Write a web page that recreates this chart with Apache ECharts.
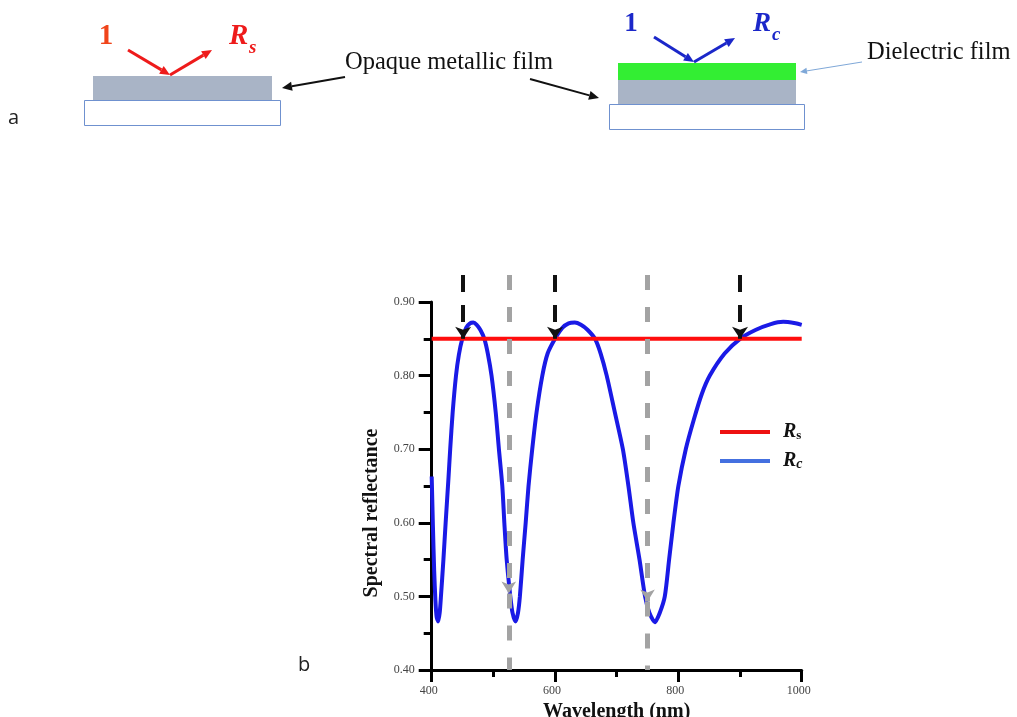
<!DOCTYPE html>
<html>
<head>
<meta charset="utf-8">
<script src="https://cdn.jsdelivr.net/npm/echarts@6/dist/echarts.min.js"></script>
<style>
  html, body { margin: 0; padding: 0; background: #ffffff; }
  #chart { width: 1017px; height: 717px; }
</style>
</head>
<body>
<div id="chart"></div>
<script>
// Reflectance of the coated film (Rc) versus wavelength
const wavelengthNm = [
  400, 402, 404, 406, 408, 410.5, 413, 415, 419, 422.6, 427, 430, 434, 439.4, 444,
  449.6, 456, 462, 467.5, 473, 479, 485.4, 491, 497, 503.8, 509, 514.5, 517.8, 521.6,
  527.5, 531, 536, 540, 543, 547.5, 552.4, 557, 563, 570, 579.4, 588, 600, 612, 622,
  632, 642, 653, 664.8, 674, 683.8, 697, 710, 719, 727, 737, 746, 753, 762, 770, 778,
  785, 792, 800, 812, 825, 838, 851, 875, 900, 925, 950, 970, 990, 1000
];
const rcValues = [
  0.663, 0.595, 0.535, 0.495, 0.472, 0.466, 0.478, 0.50, 0.55, 0.60, 0.658, 0.70, 0.75, 0.80, 0.828,
  0.85, 0.865, 0.871, 0.872, 0.869, 0.862, 0.85, 0.83, 0.80, 0.75, 0.70, 0.65, 0.60, 0.55,
  0.50, 0.478, 0.466, 0.478, 0.50, 0.55, 0.60, 0.65, 0.70, 0.75, 0.80, 0.83, 0.85, 0.865, 0.871,
  0.872, 0.869, 0.862, 0.85, 0.83, 0.80, 0.75, 0.70, 0.65, 0.60, 0.55, 0.50, 0.478, 0.465, 0.478, 0.50,
  0.55, 0.60, 0.65, 0.70, 0.74, 0.775, 0.80, 0.83, 0.85, 0.862, 0.870, 0.873, 0.871, 0.869
];

// Reflectance of the bare metallic film (Rs), flat over the band
const rsLevel = 0.85;
const rsRangeNm = [400, 1000];

// Wavelengths where Rc crosses Rs (black arrows) and marked dips (grey arrows)
const crossingNm = [451, 600, 900];
const dipMarkNm = [525, 750];
const dipMarkTip = [0.504, 0.493];

// Axis ranges
const xRange = [400, 1000];
const yRange = [0.40, 0.90];
const markerTop = 0.9367; // upper end of the marker guides (above the plot frame)

const serif = '"Liberation Serif", "Times New Roman", serif';

const chart = echarts.init(document.getElementById('chart'), null, { renderer: 'canvas' });

// Straight arrow built from a line and a filled head (schematic only)
function arrow(x1, y1, x2, y2, color, width, head) {
  const a = Math.atan2(y2 - y1, x2 - x1);
  const hw = head * 0.45;
  const bx = x2 - head * Math.cos(a), by = y2 - head * Math.sin(a);
  return [
    { type: 'line', shape: { x1: x1, y1: y1, x2: bx, y2: by },
      style: { stroke: color, lineWidth: width } },
    { type: 'polygon',
      shape: { points: [[x2, y2], [bx + hw * Math.sin(a), by - hw * Math.cos(a)], [bx - hw * Math.sin(a), by + hw * Math.cos(a)]] },
      style: { fill: color } }
  ];
}

function txt(x, y, text, font, fill, align) {
  return { type: 'text', x: x, y: y,
    style: { text: text, font: font, fill: fill, align: align || 'left', verticalAlign: 'middle' } };
}

const red = '#ee1b1b', blue = '#1b27c9', metal = '#a9b4c6';

const schematic = [
  // bare metal film on substrate
  { type: 'rect', shape: { x: 84.5, y: 100.5, width: 196, height: 25 }, style: { fill: '#ffffff', stroke: '#6f91cf', lineWidth: 1 } },
  { type: 'rect', shape: { x: 93, y: 76, width: 179, height: 24 }, style: { fill: metal } },
  ...arrow(128, 50, 170, 75, red, 3, 10),
  ...arrow(170, 75, 212, 50, red, 3, 10),
  txt(106, 37, '1', 'bold 29px ' + serif, '#f0441a', 'center'),
  txt(229, 37, 'R', 'italic bold 29px ' + serif, red),
  txt(249, 48, 's', 'italic bold 19px ' + serif, red),

  // coated metal film on substrate
  { type: 'rect', shape: { x: 609.5, y: 104.5, width: 195, height: 25 }, style: { fill: '#ffffff', stroke: '#6f91cf', lineWidth: 1 } },
  { type: 'rect', shape: { x: 618, y: 80, width: 178, height: 24 }, style: { fill: metal } },
  { type: 'rect', shape: { x: 618, y: 63, width: 178, height: 17 }, style: { fill: '#33ee33' } },
  ...arrow(654, 37, 694, 62, blue, 3, 10),
  ...arrow(694, 62, 735, 38, blue, 3, 10),
  txt(631, 24, '1', 'bold 27px ' + serif, blue, 'center'),
  txt(753, 24, 'R', 'italic bold 27px ' + serif, blue),
  txt(772, 35, 'c', 'italic bold 19px ' + serif, blue),

  // callouts
  txt(345, 63, 'Opaque metallic film', '24.5px ' + serif, '#111111'),
  ...arrow(345, 77, 282, 88, '#111111', 2, 10),
  ...arrow(530, 79, 599, 98, '#111111', 2, 10),
  txt(867, 53, 'Dielectric film', '24.5px ' + serif, '#111111'),
  ...arrow(862, 62, 800, 72, '#7fa8d8', 1, 7),

  // panel letters
  txt(8, 118, 'a', '20px "Open Sans", "DejaVu Sans", sans-serif', '#222222'),
  txt(298, 665, 'b', '20px "Open Sans", "DejaVu Sans", sans-serif', '#222222')
];

const option = {
  animation: false,
  backgroundColor: '#ffffff',
  graphic: { elements: schematic },
  legend: {
    left: 715,
    top: 417,
    orient: 'vertical',
    icon: 'rect',
    itemWidth: 50,
    itemHeight: 4,
    itemGap: 9,
    data: [
      { name: 'Rs', itemStyle: { color: '#ee1111' } },
      { name: 'Rc', itemStyle: { color: '#4470e0' } }
    ],
    formatter: function (name) {
      return name === 'Rs' ? '{r|R}{s|s}' : '{r|R}{c|c}';
    },
    textStyle: {
      padding: [0, 0, 0, 8],
      rich: {
        r: { fontFamily: serif, fontWeight: 'bold', fontStyle: 'italic', fontSize: 20, color: '#111111' },
        s: { fontFamily: serif, fontWeight: 'bold', fontSize: 13, color: '#111111', verticalAlign: 'bottom', padding: [6, 0, 0, 0] },
        c: { fontFamily: serif, fontWeight: 'bold', fontStyle: 'italic', fontSize: 14, color: '#111111', verticalAlign: 'bottom', padding: [6, 0, 0, 0] }
      }
    }
  },
  grid: [
    { left: 431.7, right: 215.3, top: 302, bottom: 47, outerBoundsMode: 'none', containLabel: false },
    { left: 431.7, right: 215.3, top: 275, bottom: 47, outerBoundsMode: 'none', containLabel: false }
  ],
  xAxis: [
    {
      type: 'value', gridIndex: 0, min: xRange[0], max: xRange[1], interval: 200,
      name: 'Wavelength (nm)', nameLocation: 'middle', nameGap: 30,
      nameTextStyle: { fontFamily: serif, fontWeight: 'bold', fontSize: 20, color: '#111111' },
      axisLine: { lineStyle: { color: '#000000', width: 3 } },
      axisTick: { length: 12, lineStyle: { color: '#000000', width: 3 } },
      minorTick: { show: true, splitNumber: 2, length: 7, lineStyle: { color: '#000000', width: 3 } },
      splitLine: { show: false },
      axisLabel: { fontFamily: serif, fontSize: 12, color: '#444444', margin: 15, padding: [0, 6, 0, 0],
        formatter: function (v) { return String(v); } }
    },
    { type: 'value', gridIndex: 1, min: xRange[0], max: xRange[1], show: false }
  ],
  yAxis: [
    {
      type: 'value', gridIndex: 0, min: yRange[0], max: yRange[1], interval: 0.1,
      name: 'Spectral reflectance', nameLocation: 'middle', nameGap: 50,
      nameTextStyle: { fontFamily: serif, fontWeight: 'bold', fontSize: 20, color: '#111111', padding: [0, 54, 0, 0] },
      axisLine: { show: true, lineStyle: { color: '#000000', width: 3 } },
      axisTick: { length: 13, lineStyle: { color: '#000000', width: 3 } },
      minorTick: { show: true, splitNumber: 2, length: 8, lineStyle: { color: '#000000', width: 3 } },
      splitLine: { show: false },
      axisLabel: { fontFamily: serif, fontSize: 12, color: '#444444', margin: 17,
        formatter: function (v) { return v.toFixed(2); } }
    },
    { type: 'value', gridIndex: 1, min: yRange[0], max: markerTop, show: false }
  ],
  series: [
    {
      name: 'Rc', type: 'line', xAxisIndex: 0, yAxisIndex: 0,
      data: wavelengthNm.map(function (w, i) { return [w, rcValues[i]]; }),
      smooth: 0.25, symbol: 'none', z: 2,
      lineStyle: { color: '#1a1ae6', width: 4 }, itemStyle: { color: '#1a1ae6' }
    },
    {
      name: 'Rs', type: 'line', xAxisIndex: 0, yAxisIndex: 0,
      data: rsRangeNm.map(function (w) { return [w, rsLevel]; }),
      symbol: 'none', z: 3,
      lineStyle: { color: '#ff0d0d', width: 4 }, itemStyle: { color: '#ff0d0d' }
    },
    {
      type: 'line', xAxisIndex: 1, yAxisIndex: 1, data: [], z: 4,
      markLine: {
        silent: true, animation: false,
        symbol: ['none', 'arrow'], symbolSize: [12, 12],
        label: { show: false },
        lineStyle: { color: '#111111', width: 4, type: [17, 13] },
        data: crossingNm.map(function (w) {
          return [{ coord: [w, markerTop] }, { coord: [w, rsLevel] }];
        })
      }
    },
    {
      type: 'line', xAxisIndex: 1, yAxisIndex: 1, data: [], z: 4,
      markLine: {
        silent: true, animation: false,
        symbol: ['none', 'arrow'], symbolSize: [11, 12],
        label: { show: false },
        lineStyle: { color: '#a3a3a3', width: 5, type: [15, 17] },
        data: dipMarkNm.map(function (w, i) {
          return [{ coord: [w, markerTop] }, { coord: [w, dipMarkTip[i]] }];
        }).concat(dipMarkNm.map(function (w, i) {
          return [{ coord: [w, dipMarkTip[i]], symbol: 'none' }, { coord: [w, yRange[0]], symbol: 'none' }];
        }))
      }
    }
  ]
};

chart.setOption(option);
</script>
</body>
</html>
